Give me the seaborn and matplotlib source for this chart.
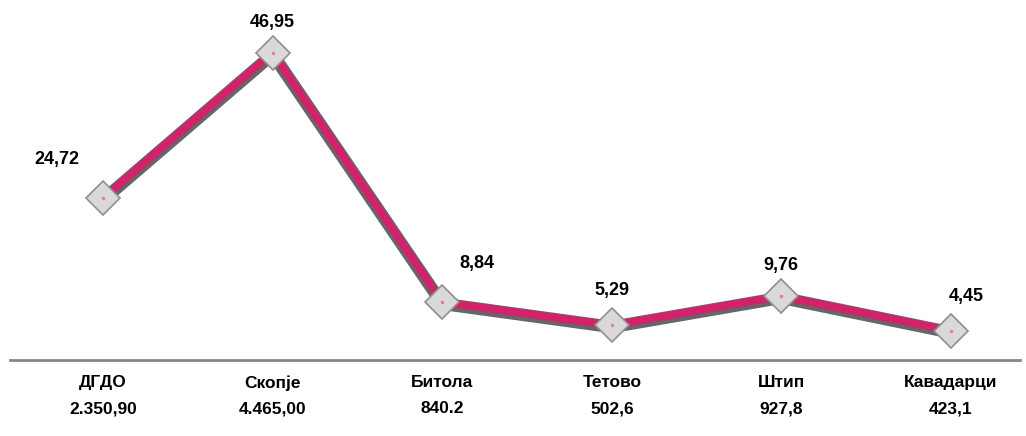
import seaborn as sns
import pandas as pd
import matplotlib.pyplot as plt
import matplotlib.transforms as mtransforms

# podatoci
gradovi = ['ДГДО', 'Скопје', 'Битола', 'Тетово', 'Штип', 'Кавадарци']
iznosi = ['2.350,90', '4.465,00', '840.2', '502,6', '927,8', '423,1']
vrednosti = [24.72, 46.95, 8.84, 5.29, 9.76, 4.45]
etiketi = ['24,72', '46,95', '8,84', '5,29', '9,76', '4,45']

df = pd.DataFrame({'x': range(len(gradovi)), 'v': vrednosti})

sns.set_style('white')
plt.rcParams['font.family'] = ['Liberation Sans', 'DejaVu Sans']

fig = plt.figure(figsize=(10.26, 4.36), dpi=100)
ax = fig.add_axes([0.01, 0.174, 0.984, 0.826])

# senka pod linijata
senka = mtransforms.offset_copy(ax.transData, fig=fig, x=0, y=-1.5, units='dots')
ax.plot(df['x'], df['v'], color='#666666', lw=9, transform=senka,
        solid_capstyle='round', zorder=2)
sns.lineplot(data=df, x='x', y='v', color='#d3216b', lw=5.5, ax=ax, zorder=3)
ax.plot(df['x'], df['v'], ls='none', marker='D', ms=17, mfc='#d9d9d9',
        mec='#8f8f8f', mew=1.2, zorder=4)
ax.plot(df['x'], df['v'], ls='none', marker='.', ms=3, color='#e87aa8', zorder=5)

# etiketi na tockite
pomestuvanja = [(-33, 28), (0, 22), (25, 28), (0, 25), (0, 22), (11, 25)]
for i, (v, t) in enumerate(zip(vrednosti, etiketi)):
    ax.annotate(t, (i, v), xytext=pomestuvanja[i], textcoords='offset points',
                ha='center', va='center', fontsize=13, fontweight='bold',
                color='black')

ax.set_xlim(-0.548, 5.407)
ax.set_ylim(0, 55)
ax.set_yticks([])
ax.set_xticks(range(len(gradovi)))
ax.set_xticklabels([f'{g}\n{z}' for g, z in zip(gradovi, iznosi)],
                   fontsize=12.5, fontweight='bold', linespacing=1.9,
                   color='black')
ax.tick_params(axis='x', length=0, pad=11)
ax.set_xlabel('')
ax.set_ylabel('')
for s in ['top', 'left', 'right']:
    ax.spines[s].set_visible(False)
ax.spines['bottom'].set_color('#868686')
ax.spines['bottom'].set_linewidth(2)

fig.savefig('out.png', dpi=100)
